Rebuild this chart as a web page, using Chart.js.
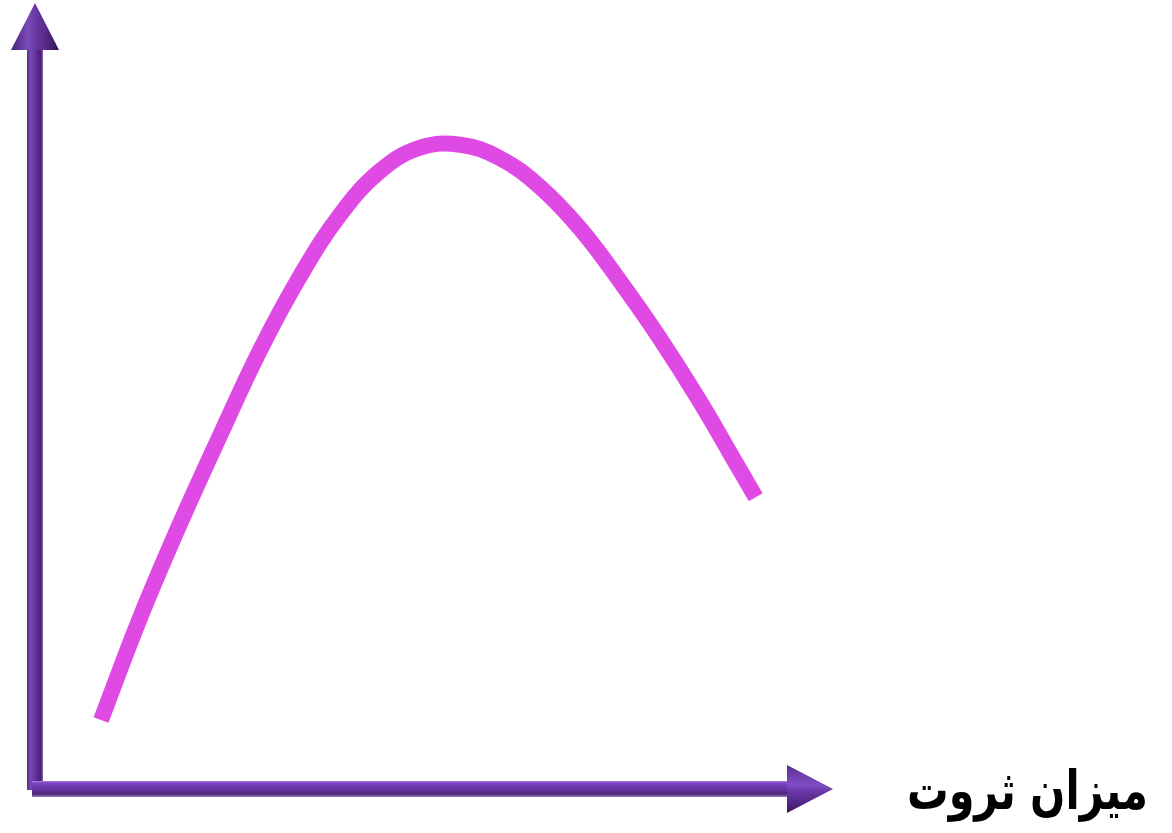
<!DOCTYPE html>
<html>
<head>
<meta charset="utf-8">
<script src="https://cdn.jsdelivr.net/npm/chart.js@4/dist/chart.umd.min.js"></script>
<style>
html,body{margin:0;padding:0;background:#fff;overflow:hidden;}
#wrap{width:1172px;height:833px;position:relative;}
</style>
</head>
<body>
<div id="wrap"><canvas id="c"></canvas></div>
<script>
// Wealth (x) and the curve value (y)
const wealth    = [0.88, 1.40, 1.93, 2.47, 3.00, 3.53, 4.07, 4.60, 5.13, 5.67, 6.20, 6.73, 7.27, 7.80, 8.33, 8.87, 9.40, 9.61];
const curveVals = [0.92, 2.28, 3.53, 4.72, 5.85, 6.83, 7.66, 8.24, 8.55, 8.59, 8.41, 8.03, 7.47, 6.77, 6.01, 5.16, 4.25, 3.89];
const xAxisLabel = 'میزان ثروت';
const axisMin = 0, axisMax = 10;

const points = wealth.map((v, i) => ({ x: v, y: curveVals[i] }));

const axesPlugin = {
  id: 'arrowAxes',
  beforeDatasetsDraw(chart) {
    const { ctx, chartArea: a, scales } = chart;
    const ox = scales.x.getPixelForValue(axisMin);
    const oy = scales.y.getPixelForValue(axisMin);
    ctx.save();

    // vertical shaft
    const vTop = a.top + 11;
    let g = ctx.createLinearGradient(ox - 8, 0, ox + 8, 0);
    g.addColorStop(0, '#55298a');
    g.addColorStop(0.2, '#7a48b6');
    g.addColorStop(0.55, '#63329c');
    g.addColorStop(0.85, '#45206e');
    g.addColorStop(1, '#8a62b8');
    ctx.fillStyle = g;
    ctx.fillRect(ox - 8, vTop, 16, oy + 1 - vTop);

    // horizontal shaft
    const hRight = a.right + 2;
    g = ctx.createLinearGradient(0, oy - 8, 0, oy + 8);
    g.addColorStop(0, '#a77ad8');
    g.addColorStop(0.15, '#7b42c2');
    g.addColorStop(0.5, '#6a35a8');
    g.addColorStop(0.8, '#4b2677');
    g.addColorStop(1, '#9b78c4');
    ctx.fillStyle = g;
    ctx.fillRect(ox - 3, oy - 8, hRight - (ox - 3), 16);

    // vertical arrow head
    const tipY = a.top - 36, baseY = a.top + 11;
    g = ctx.createLinearGradient(ox - 24, 0, ox + 24, 0);
    g.addColorStop(0, '#4a2378');
    g.addColorStop(0.35, '#7a4ab8');
    g.addColorStop(0.5, '#6a3aa5');
    g.addColorStop(0.7, '#5a2d8c');
    g.addColorStop(1, '#2f1250');
    ctx.fillStyle = g;
    ctx.beginPath();
    ctx.moveTo(ox, tipY);
    ctx.lineTo(ox + 24, baseY);
    ctx.lineTo(ox - 24, baseY);
    ctx.closePath();
    ctx.fill();

    // horizontal arrow head
    const tipX = a.right + 48, baseX = a.right + 2;
    g = ctx.createLinearGradient(0, oy - 24, 0, oy + 24);
    g.addColorStop(0, '#5a2d8c');
    g.addColorStop(0.4, '#7f4cc2');
    g.addColorStop(0.55, '#6a38a8');
    g.addColorStop(1, '#3a1760');
    ctx.fillStyle = g;
    ctx.beginPath();
    ctx.moveTo(tipX, oy);
    ctx.lineTo(baseX, oy - 24);
    ctx.lineTo(baseX, oy + 24);
    ctx.closePath();
    ctx.fill();

    // axis label
    ctx.fillStyle = '#000';
    ctx.font = 'bold 54px "DejaVu Sans"';
    ctx.direction = 'rtl';
    ctx.textAlign = 'right';
    ctx.textBaseline = 'alphabetic';
    ctx.fillText(xAxisLabel, chart.width - 24, oy + 20, 241);
    ctx.restore();
  }
};

new Chart(document.getElementById('c'), {
  type: 'scatter',
  data: {
    datasets: [{
      data: points,
      showLine: true,
      borderColor: '#e04ae4',
      borderWidth: 16,
      borderCapStyle: 'butt',
      borderJoinStyle: 'round',
      tension: 0.4,
      pointRadius: 0,
      pointHoverRadius: 0,
      fill: false,
      clip: false
    }]
  },
  options: {
    responsive: true,
    maintainAspectRatio: false,
    animation: false,
    events: [],
    layout: { padding: { left: 35, top: 39, right: 387, bottom: 44 } },
    scales: {
      x: { type: 'linear', min: axisMin, max: axisMax, display: false },
      y: { type: 'linear', min: axisMin, max: axisMax, display: false }
    },
    plugins: { legend: { display: false }, tooltip: { enabled: false }, title: { display: false } }
  },
  plugins: [axesPlugin]
});
</script>
</body>
</html>
